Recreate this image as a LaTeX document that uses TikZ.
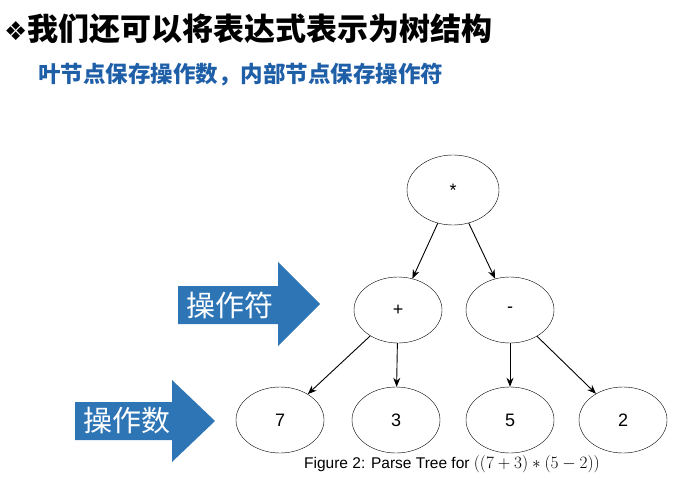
\documentclass[tikz,border=0pt]{standalone}
\usepackage{fontspec}
\setmainfont{Liberation Sans}
\newfontfamily\cjk{Noto Sans CJK SC}
\newfontfamily\djsym{DejaVu Sans}
\usetikzlibrary{arrows.meta,shapes.geometric}
\definecolor{tblue}{HTML}{1F5FA8}
\definecolor{abl}{HTML}{2E75B6}
\begin{document}
\begin{tikzpicture}[x=1pt,y=-1pt,
  tn/.style={draw,ellipse,minimum width=88pt,minimum height=66pt,inner sep=0pt,font=\fontsize{18}{20}\selectfont},
  ed/.style={-{Stealth[length=9pt,width=7pt]},line width=0.9pt}]
\useasboundingbox (0,0) rectangle (676,484);
\node[anchor=west,inner sep=0pt,font=\cjk\bfseries\fontsize{31}{33}\selectfont] (t) at (4,29) {{\djsym\fontsize{26}{28}\selectfont ❖}我们还可以将表达式表示为树结构};
\node[anchor=west,inner sep=0pt,text=tblue,font=\cjk\bfseries\fontsize{22.5}{25}\selectfont] (s) at (38,75) {叶节点保存操作数，内部节点保存操作符};
\node[tn,minimum width=92pt,minimum height=70pt] (m) at (453,190) {*};
\node[tn] (p) at (398,310) {+};
\node[tn] (d) at (510,310) {-};
\node[tn] (a) at (280,420) {7};
\node[tn] (b) at (396,420) {3};
\node[tn] (c) at (510,420) {5};
\node[tn] (e) at (623,420) {2};
\draw[ed] (m) -- (p); \draw[ed] (m) -- (d);
\draw[ed] (p) -- (a); \draw[ed] (p) -- (b);
\draw[ed] (d) -- (c); \draw[ed] (d) -- (e);
\fill[abl] (178,286) -- (278,286) -- (278,262) -- (320,304) -- (278,346) -- (278,324) -- (178,324) -- cycle;
\node[text=white,font=\cjk\fontsize{29}{31}\selectfont] (l1) at (230,305) {操作符};
\fill[abl] (75,402) -- (172,402) -- (172,380) -- (215,421) -- (172,462) -- (172,440) -- (75,440) -- cycle;
\node[text=white,font=\cjk\fontsize{29}{31}\selectfont] (l2) at (127,421) {操作数};
\node[font=\fontsize{15.5}{18}\selectfont] (cap) at (452,464) {Figure 2: Parse Tree for {\fontsize{19}{20}\selectfont$((7+3)*(5-2))$}};
\end{tikzpicture}
\end{document}
